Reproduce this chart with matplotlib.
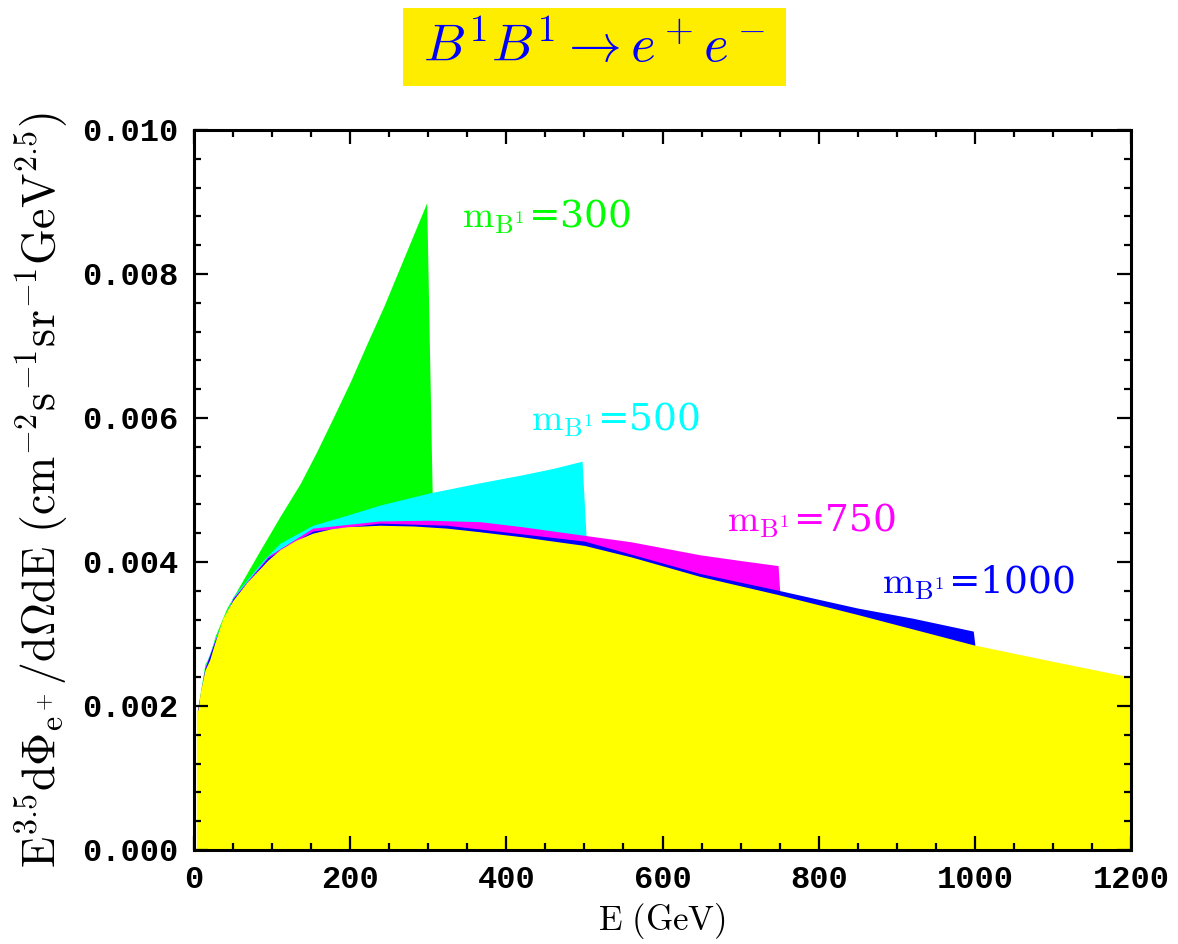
import numpy as np
import matplotlib
matplotlib.use('Agg')
import matplotlib.pyplot as plt
from matplotlib.patches import Rectangle
from matplotlib.ticker import MultipleLocator

# E (GeV) and E^3.5 dPhi/dOmega dE for each B1 mass
E_300 = [5, 14, 20, 27, 42, 59, 85, 110, 136, 157, 178, 200, 221, 243, 264, 285, 298, 305]
F_300 = [0.00199, 0.00258, 0.00270, 0.00297, 0.00336, 0.00368, 0.00417, 0.00463, 0.00509,
         0.00553, 0.00600, 0.00650, 0.00702, 0.00755, 0.00810, 0.00865, 0.00899, 0.00496]

E_500 = [5, 14, 27, 50, 89, 110, 152, 196, 238, 264, 302, 366, 420, 460, 497, 502]
F_500 = [0.00198, 0.00255, 0.00294, 0.00352, 0.00403, 0.00426, 0.00451, 0.00465, 0.00479,
         0.00486, 0.00496, 0.00510, 0.00521, 0.00530, 0.00540, 0.00437]

E_750 = [5, 14, 27, 50, 95, 152, 238, 300, 366, 420, 500, 560, 648, 700, 748, 750]
F_750 = [0.00197, 0.00253, 0.00292, 0.00350, 0.00408, 0.00447, 0.00457, 0.00458, 0.00456,
         0.00449, 0.00437, 0.00428, 0.00410, 0.00402, 0.00395, 0.00361]

E_1000 = [5, 14, 27, 50, 95, 152, 238, 324, 420, 500, 648, 747, 850, 920, 998, 1000]
F_1000 = [0.00196, 0.00252, 0.00291, 0.00349, 0.00406, 0.00443, 0.00454, 0.00451, 0.00439,
          0.00429, 0.00384, 0.00361, 0.00336, 0.00322, 0.00304, 0.00285]

E_base = [3, 5, 8, 14, 20, 27, 37, 50, 68, 95, 110, 130, 152, 175, 196, 238, 281, 324, 366,
          420, 500, 560, 648, 747, 850, 998, 1100, 1200]
F_base = [0.00195, 0.00194, 0.00219, 0.00250, 0.00264, 0.00289, 0.00322, 0.00347, 0.00372,
          0.00403, 0.00417, 0.00430, 0.00440, 0.00446, 0.00449, 0.00451, 0.00450, 0.00447,
          0.00442, 0.00435, 0.00423, 0.00407, 0.00380, 0.00355, 0.00327, 0.00285, 0.00262,
          0.00240]

masses = ['300', '500', '750', '1000']
colors = ['#00ff00', '#00ffff', '#ff00ff', '#0000ff']
label_pos = [(343, 0.00879), (431, 0.00597), (683, 0.00457), (881, 0.00371)]

fig = plt.figure(figsize=(11.78, 9.44), dpi=100)
ax = fig.add_axes([0.1647, 0.0996, 0.7954, 0.7627])

curves = [(E_300, F_300), (E_500, F_500), (E_750, F_750), (E_1000, F_1000)]
for (e, f), c in zip(curves, colors):
    ax.fill_between(e, 0, f, color=c, linewidth=0)
ax.fill_between(E_base, 0, F_base, color='#ffff00', linewidth=0)

for m, c, (x, y) in zip(masses, colors, label_pos):
    ax.text(x, y, r'$\mathrm{m_{B^1}}$=' + m, color=c, fontsize=27,
            family='DejaVu Serif', math_fontfamily='cm', va='center')

ax.set_xlim(0, 1200)
ax.set_ylim(0, 0.010)
ax.xaxis.set_major_locator(MultipleLocator(200))
ax.xaxis.set_minor_locator(MultipleLocator(50))
ax.yaxis.set_major_locator(MultipleLocator(0.002))
ax.yaxis.set_minor_locator(MultipleLocator(0.0004))
ax.set_yticklabels(['%.3f' % v for v in ax.get_yticks()])
ax.tick_params(which='both', direction='in', top=True, right=True, width=1.6)
ax.tick_params(which='major', length=10, pad=11)
ax.tick_params(which='minor', length=5)
for lab in ax.get_xticklabels() + ax.get_yticklabels():
    lab.set_fontfamily('Liberation Mono')
    lab.set_fontweight('bold')
    lab.set_fontsize(23)
for sp in ax.spines.values():
    sp.set_linewidth(2.2)

ax.set_xlabel(r'$\mathrm{E\ (GeV)}$', math_fontfamily='cm', fontsize=25, labelpad=4)
ax.set_ylabel(r'$\mathrm{E^{3.5}d\Phi_{e^+}/d\Omega dE\ (cm^{-2}s^{-1}sr^{-1}GeV^{2.5})}$',
              math_fontfamily='cm', fontsize=33, labelpad=8)

# title in a yellow box
fig.patches.append(Rectangle((403 / 1178, 1 - 86 / 944), 383 / 1178, 78 / 944,
                             transform=fig.transFigure, fc='#ffed00', ec='none'))
fig.text(594.5 / 1178, 1 - 47 / 944, r'$B^1B^1\to e^+e^-$', color='#0000ff', fontsize=38,
         math_fontfamily='cm', ha='center', va='center')

fig.savefig('out.png', dpi=100)
